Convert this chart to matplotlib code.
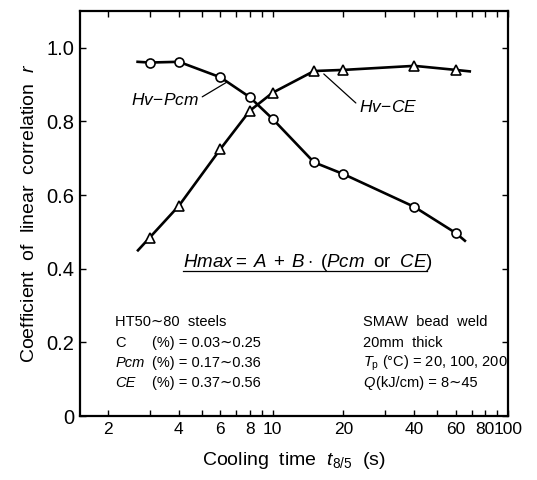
import matplotlib
matplotlib.use('Agg')
import matplotlib.pyplot as plt

plt.rcParams['font.family'] = ['Liberation Sans', 'DejaVu Sans']
plt.rcParams['mathtext.fontset'] = 'custom'
plt.rcParams['mathtext.rm'] = 'Liberation Sans'
plt.rcParams['mathtext.it'] = 'Liberation Sans:italic'
plt.rcParams['mathtext.bf'] = 'Liberation Sans:bold'

# cooling time t8/5 (s) of the measured points
cooling_time = [3, 4, 6, 8, 10, 15, 20, 40, 60]
# correlation coefficient r
r_pcm = [0.960, 0.962, 0.920, 0.866, 0.807, 0.689, 0.657, 0.568, 0.497]
r_ce = [0.484, 0.571, 0.725, 0.829, 0.878, 0.937, 0.940, 0.951, 0.940]
# where the drawn curves start and stop beyond the points
pcm_ends_t = [2.67, 65.6]
pcm_ends_r = [0.962, 0.476]
ce_ends_t = [2.68, 68.8]
ce_ends_r = [0.450, 0.936]

x_major = [2, 4, 6, 8, 10, 20, 40, 60, 80, 100]
x_major_labels = ['2', '4', '6', '8', '10', '20', '40', '60', '80', '100']
x_minor = [3, 5, 7, 9, 30, 50, 70, 90]
y_ticks = [0, 0.2, 0.4, 0.6, 0.8, 1.0]
y_labels = ['0', '0.2', '0.4', '0.6', '0.8', '1.0']

fig = plt.figure(figsize=(5.37, 4.8), dpi=100)
ax = fig.add_axes([80 / 537, 64 / 480, 428 / 537, 405 / 480])

pcm_t = [pcm_ends_t[0]] + cooling_time + [pcm_ends_t[1]]
pcm_r = [pcm_ends_r[0]] + r_pcm + [pcm_ends_r[1]]
ce_t = [ce_ends_t[0]] + cooling_time + [ce_ends_t[1]]
ce_r = [ce_ends_r[0]] + r_ce + [ce_ends_r[1]]

ax.plot(pcm_t, pcm_r, color='black', lw=1.9, zorder=2)
ax.plot(ce_t, ce_r, color='black', lw=1.9, zorder=2)
ax.plot(cooling_time, r_pcm, 'o', ms=6.5, mfc='white', mec='black', mew=1.2, zorder=3)
ax.plot(cooling_time, r_ce, '^', ms=7.5, mfc='white', mec='black', mew=1.2, zorder=3)

ax.set_xscale('log')
ax.set_xlim(1.52, 100)
ax.set_ylim(0, 1.1)
ax.set_xticks(x_major)
ax.set_xticklabels(x_major_labels, fontsize=12.5)
ax.set_xticks(x_minor, minor=True)
ax.set_xticklabels([], minor=True)
ax.set_yticks(y_ticks)
ax.set_yticklabels(y_labels, fontsize=14.5)
ax.tick_params(which='both', direction='in', top=True, right=True, length=4.5, width=1, pad=4)
for s in ax.spines.values():
    s.set_linewidth(1.6)

ax.set_xlabel(r'Cooling  time  $t_{\rm 8/5}$  (s)', fontsize=14, labelpad=10)
ax.set_ylabel(r'Coefficient  of  linear  correlation  $r$', fontsize=14, labelpad=6)

# curve labels with leader lines
ax.annotate(r'$Hv\!-\!Pcm$', xy=(6.4, 0.907), xytext=(4.89, 0.858), ha='right', va='center',
            fontsize=12.5, arrowprops=dict(arrowstyle='-', lw=0.9, color='black',
                                           shrinkA=0, shrinkB=0, relpos=(1, 0.6)))
ax.annotate(r'$Hv\!-\!CE$', xy=(16.5, 0.929), xytext=(23.2, 0.839), ha='left', va='center',
            fontsize=12.5, arrowprops=dict(arrowstyle='-', lw=0.9, color='black',
                                           shrinkA=0, shrinkB=0, relpos=(0, 0.6)))

# formula, underlined
ax.text(0.241, 0.380, r'$Hmax=\;A\;+\;B\cdot\;(Pcm\;$ or $\;CE)$', transform=ax.transAxes,
        ha='left', va='center', fontsize=13.5)
ax.plot([0.241, 0.811], [0.358, 0.358], transform=ax.transAxes, color='black', lw=0.9)

# conditions block
fs = 10.5
rows_y = [0.232, 0.181, 0.131, 0.081]
ax.text(0.082, rows_y[0], 'HT50∼80  steels', transform=ax.transAxes, va='center', fontsize=fs)
ax.text(0.082, rows_y[1], 'C', transform=ax.transAxes, va='center', fontsize=fs)
ax.text(0.082, rows_y[2], 'Pcm', transform=ax.transAxes, va='center', fontsize=fs, style='italic')
ax.text(0.082, rows_y[3], 'CE', transform=ax.transAxes, va='center', fontsize=fs, style='italic')
ax.text(0.168, rows_y[1], '(%) = 0.03∼0.25', transform=ax.transAxes, va='center', fontsize=fs)
ax.text(0.168, rows_y[2], '(%) = 0.17∼0.36', transform=ax.transAxes, va='center', fontsize=fs)
ax.text(0.168, rows_y[3], '(%) = 0.37∼0.56', transform=ax.transAxes, va='center', fontsize=fs)

ax.text(0.661, rows_y[0], 'SMAW  bead  weld', transform=ax.transAxes, va='center', fontsize=fs)
ax.text(0.661, rows_y[1], '20mm  thick', transform=ax.transAxes, va='center', fontsize=fs)
ax.text(0.661, rows_y[2], r'$T_{\rm p}$ (°C) = 20, 100, 200', transform=ax.transAxes,
        va='center', fontsize=fs)
ax.text(0.661, rows_y[3], 'Q', transform=ax.transAxes, va='center', fontsize=fs, style='italic')
ax.text(0.692, rows_y[3], '(kJ/cm) = 8∼45', transform=ax.transAxes, va='center', fontsize=fs)

plt.savefig('out.png', dpi=100)
